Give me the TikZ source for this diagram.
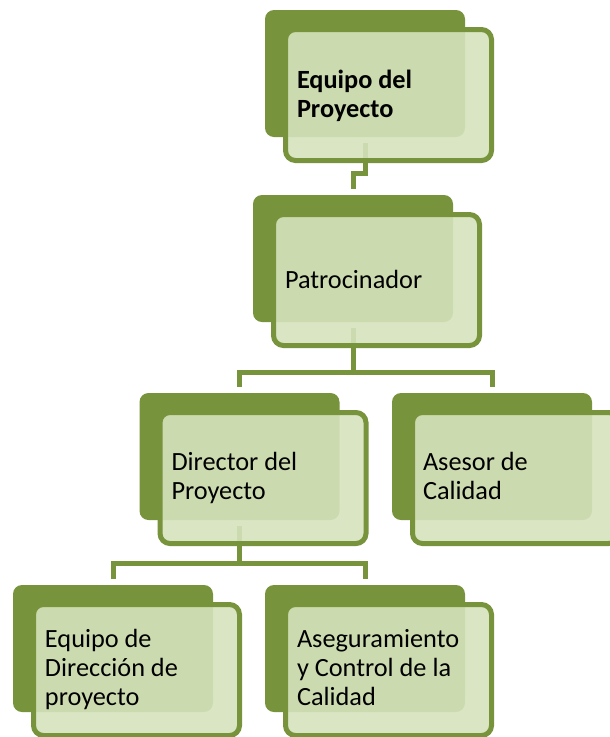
\documentclass[tikz,border=0pt]{standalone}
\usepackage{fontspec}
\setmainfont{Carlito}
\usetikzlibrary{backgrounds}
\definecolor{olivedk}{HTML}{77933C}
\definecolor{olivelt}{HTML}{D6E3BC}
\tikzset{
  back/.style={fill=olivedk, rounded corners=9pt, anchor=north west, outer sep=0pt,
    minimum width=200pt, minimum height=127pt, inner sep=0pt},
  front/.style={draw=olivedk, line width=5pt, fill=olivelt, fill opacity=0.9,
    rounded corners=10pt, anchor=north west, minimum width=206pt, minimum height=131pt, inner sep=0pt},
  conn/.style={draw=olivedk, line width=5pt},
  lbl/.style={anchor=base west, inner sep=0pt, outer sep=0pt, align=left,
    font=\fontsize{26.3}{29}\selectfont, text=black},
}
\begin{document}
\begin{tikzpicture}[x=1pt,y=-1pt]
\useasboundingbox (0,0) rectangle (610,737);
% boxes
\node[back] (topB) at (265,10) {};
\node[front] (topF) at ([xshift=18pt,yshift=-17pt]topB.north west) {};
\node[back] (patB) at (253,195) {};
\node[front] (patF) at ([xshift=18pt,yshift=-17pt]patB.north west) {};
\node[back] (dirB) at (139.5,393) {};
\node[front] (dirF) at ([xshift=18pt,yshift=-17pt]dirB.north west) {};
\node[back] (aseB) at (392,393) {};
\node[front] (aseF) at ([xshift=18pt,yshift=-17pt]aseB.north west) {};
\node[back] (eqdB) at (13,585) {};
\node[front] (eqdF) at ([xshift=18pt,yshift=-17pt]eqdB.north west) {};
\node[back] (asgB) at (265,585) {};
\node[front] (asgF) at ([xshift=18pt,yshift=-17pt]asgB.north west) {};
% labels (base anchor = last line baseline)
\node[lbl, font=\fontsize{26.3}{29}\selectfont\bfseries] (topT) at ([xshift=32pt,yshift=-107pt]topB.north west) {Equipo del\\Proyecto};
\node[lbl] (patT) at ([xshift=32pt,yshift=-93pt]patB.north west) {Patrocinador};
\node[lbl] (dirT) at ([xshift=32pt,yshift=-106.5pt]dirB.north west) {Director del\\Proyecto};
\node[lbl] (aseT) at ([xshift=31pt,yshift=-106.5pt]aseB.north west) {Asesor de\\Calidad};
\node[lbl] (eqdT) at ([xshift=32pt,yshift=-120.5pt]eqdB.north west) {Equipo de\\Dirección de\\proyecto};
\node[lbl] (asgT) at ([xshift=32pt,yshift=-120.5pt]asgB.north west) {Aseguramiento\\y Control de la\\Calidad};
% connectors
\begin{scope}[on background layer]
\path ([yshift=-36pt]topB.south) coordinate (j0);
\path ([yshift=-50pt]patB.south) coordinate (j1);
\path ([yshift=-43pt]dirB.south) coordinate (j2);
\draw[conn] ([yshift=-6pt]topB.south) -- (j0) -| ([yshift=6pt]patB.north);
\draw[conn] ([yshift=-6pt]patB.south) -- (j1);
\draw[conn] ([yshift=6pt]dirB.north) |- (j1) -| ([yshift=6pt]aseB.north);
\draw[conn] ([yshift=-6pt]dirB.south) -- (j2);
\draw[conn] ([yshift=6pt]eqdB.north) |- (j2) -| ([yshift=6pt]asgB.north);
\end{scope}
\end{tikzpicture}
\end{document}
